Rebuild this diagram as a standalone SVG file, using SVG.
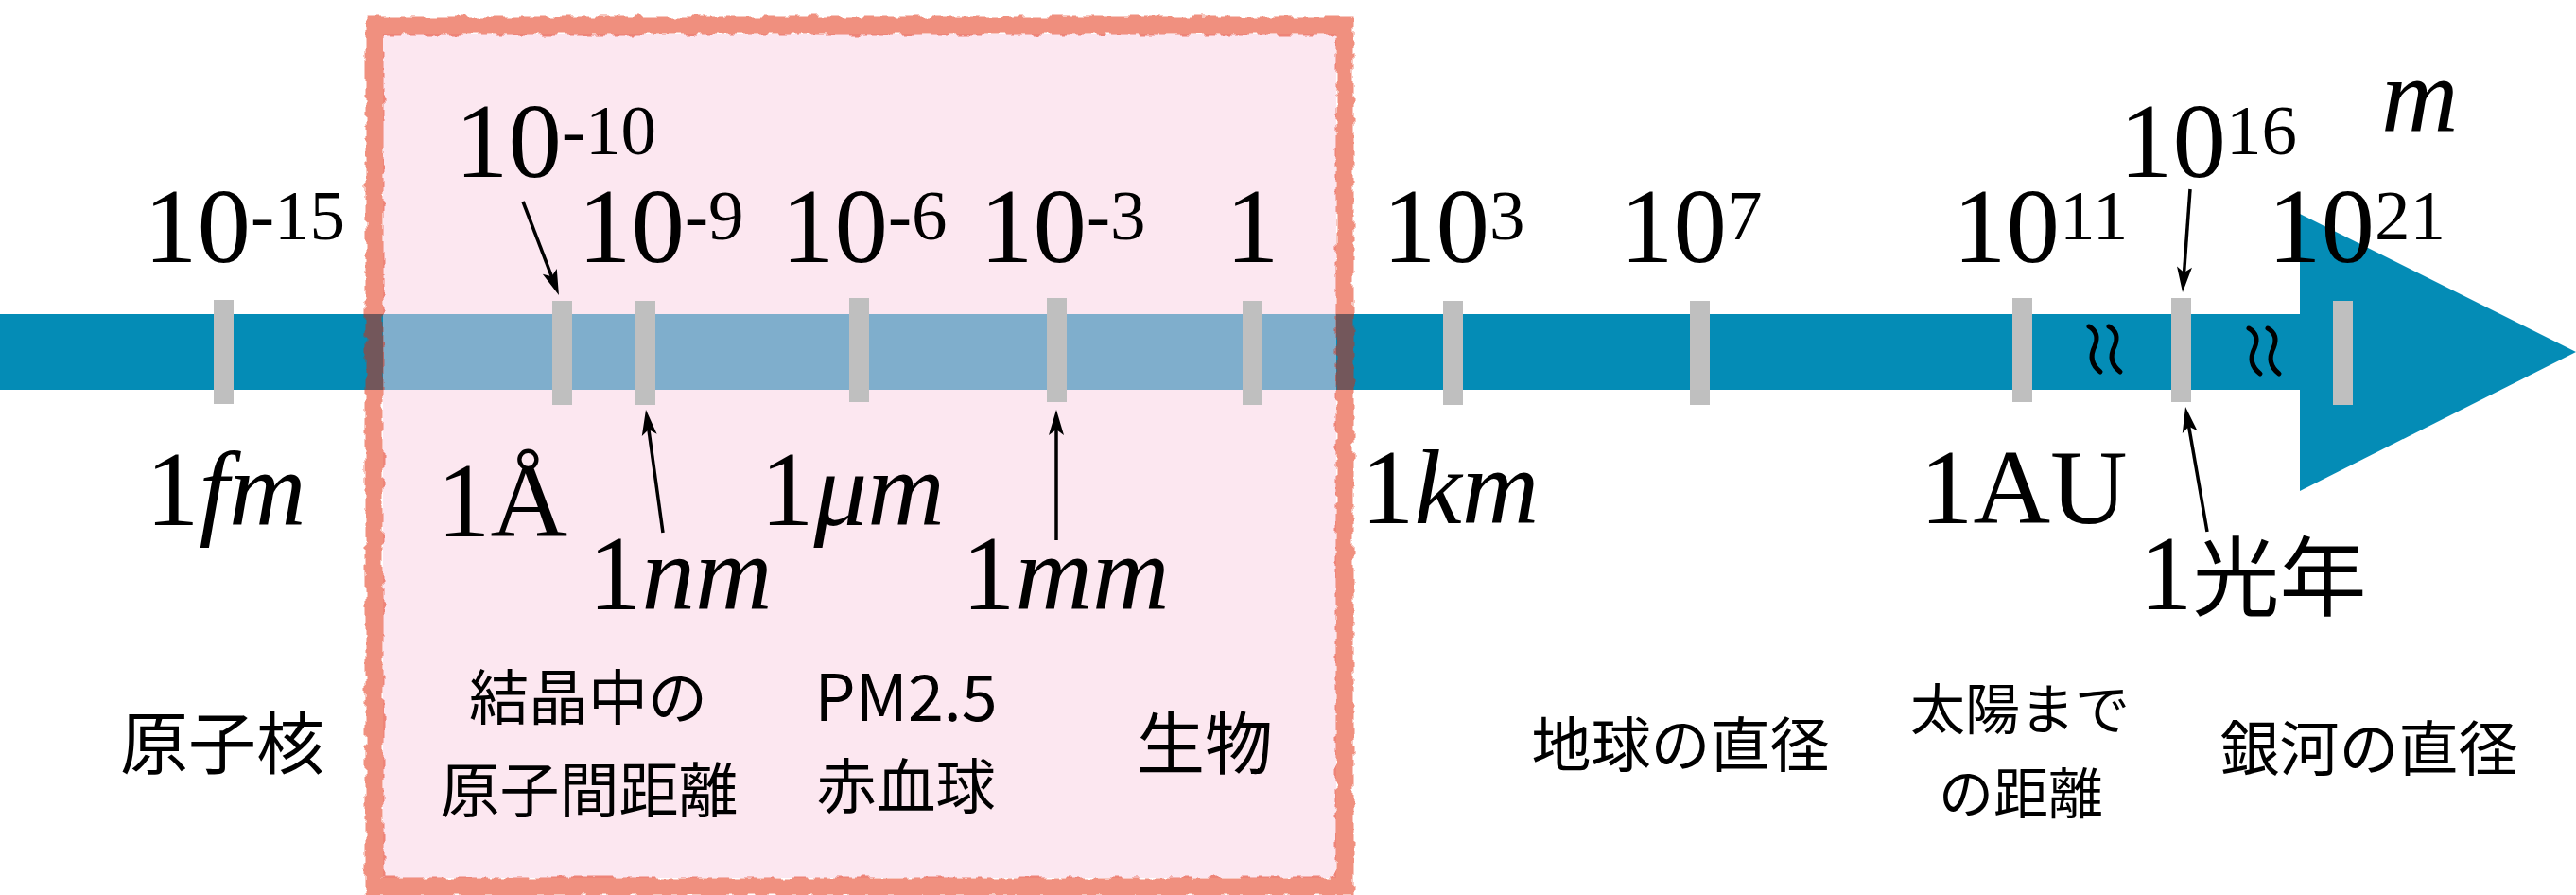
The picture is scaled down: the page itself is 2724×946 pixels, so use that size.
<svg xmlns="http://www.w3.org/2000/svg" width="2724" height="946" viewBox="0 0 2724 946">
<style>
.num{font-family:"Liberation Serif","Times New Roman",serif;font-size:113px;fill:#000}
.sup{font-size:75px}
.it{font-style:italic}
.jp{font-family:"Noto Sans CJK JP",sans-serif;font-size:63px;fill:#000;text-anchor:middle}
.tick{fill:#bfbfbf}
.arr{stroke:#000;stroke-width:3.5;fill:none;marker-end:url(#ah)}
.brk{stroke:#000;stroke-width:5;fill:none;stroke-linecap:round}
</style>
<defs>
<marker id="ah" markerUnits="userSpaceOnUse" markerWidth="30" markerHeight="20" viewBox="-20 -10 30 20" refX="0" refY="0" orient="auto">
<path d="M8,0 L-19,-8 L-13,0 L-19,8 Z" fill="#000"/>
</marker>
<filter id="rough" x="-3%" y="-3%" width="106%" height="106%">
<feTurbulence type="fractalNoise" baseFrequency="0.09" numOctaves="2" seed="4" result="n"/>
<feDisplacementMap in="SourceGraphic" in2="n" scale="9" xChannelSelector="R" yChannelSelector="G"/>
</filter>
</defs>

<g id="axis">
<rect x="0" y="332" width="2432" height="80" fill="#048cb6"/>
<polygon points="2432,226 2724,372 2432,519" fill="#048cb6"/>
</g>

<g id="range-box">
<rect x="405" y="36" width="1008" height="892" fill="rgb(249,208,225)" fill-opacity="0.5"/>
<rect x="396" y="27" width="1026" height="910" fill="none" stroke="rgb(226,32,6)" stroke-opacity="0.5" stroke-width="19" filter="url(#rough)"/>
</g>

<g id="ticks">
<rect class="tick" x="226" y="317" width="21" height="110"/>
<rect class="tick" x="584" y="318" width="21" height="110"/>
<rect class="tick" x="672" y="318" width="21" height="110"/>
<rect class="tick" x="898" y="315" width="21" height="110"/>
<rect class="tick" x="1107" y="315" width="21" height="110"/>
<rect class="tick" x="1314" y="318" width="21" height="110"/>
<rect class="tick" x="1526" y="318" width="21" height="110"/>
<rect class="tick" x="1787" y="318" width="21" height="110"/>
<rect class="tick" x="2128" y="315" width="21" height="110"/>
<rect class="tick" x="2296" y="315" width="21" height="110"/>
<rect class="tick" x="2467" y="318" width="21" height="110"/>
</g>

<g id="breaks">
<path class="brk" d="M2209,345 Q2221,352 2215,366 Q2207,382 2221,393"/>
<path class="brk" d="M2230,345 Q2242,352 2236,366 Q2228,382 2242,393"/>
<path class="brk" d="M2378,347 Q2390,354 2384,368 Q2376,384 2390,395"/>
<path class="brk" d="M2398,347 Q2410,354 2404,368 Q2396,384 2410,395"/>
</g>

<g id="connectors">
<line class="arr" x1="553" y1="213" x2="588.1" y2="304.5"/>
<line class="arr" x1="701" y1="563" x2="684.1" y2="441"/>
<line class="arr" x1="1117" y1="571" x2="1117" y2="441"/>
<line class="arr" x1="2316" y1="200" x2="2308.6" y2="301"/>
<line class="arr" x1="2334" y1="562" x2="2312.4" y2="438"/>
</g>

<g id="label-e-15"><text class="num" x="152" y="277">10<tspan class="sup" dy="-24">-15</tspan></text></g>
<g id="label-e-10"><text class="num" x="481" y="187">10<tspan class="sup" dy="-24">-10</tspan></text></g>
<g id="label-e-9"><text class="num" x="611" y="277">10<tspan class="sup" dy="-24">-9</tspan></text></g>
<g id="label-e-6"><text class="num" x="826" y="277">10<tspan class="sup" dy="-24">-6</tspan></text></g>
<g id="label-e-3"><text class="num" x="1036" y="277">10<tspan class="sup" dy="-24">-3</tspan></text></g>
<g id="label-e0"><text class="num" x="1296" y="277">1</text></g>
<g id="label-e3"><text class="num" x="1462" y="277">10<tspan class="sup" dy="-24">3</tspan></text></g>
<g id="label-e7"><text class="num" x="1713" y="277">10<tspan class="sup" dy="-24">7</tspan></text></g>
<g id="label-e11"><text class="num" x="2065" y="277">10<tspan class="sup" dy="-24">11</tspan></text></g>
<g id="label-e16"><text class="num" x="2241" y="187">10<tspan class="sup" dy="-24">16</tspan></text></g>
<g id="label-e21"><text class="num" x="2398" y="277">10<tspan class="sup" dy="-24">21</tspan></text></g>
<g id="label-unit"><text class="num it" x="2518" y="139">m</text></g>

<g id="unit-fm"><text class="num" x="154" y="555">1<tspan class="it">fm</tspan></text></g>
<g id="unit-angstrom"><text class="num" x="462" y="567">1Å</text></g>
<g id="unit-nm"><text class="num" x="622" y="644">1<tspan class="it">nm</tspan></text></g>
<g id="unit-um"><text class="num" x="804" y="555">1<tspan class="it">μm</tspan></text></g>
<g id="unit-mm"><text class="num" x="1017" y="644">1<tspan class="it">mm</tspan></text></g>
<g id="unit-km"><text class="num" x="1439" y="553">1<tspan class="it">km</tspan></text></g>
<g id="unit-au"><text class="num" x="2030" y="553">1AU</text></g>
<g id="unit-ly"><text class="num" x="2262" y="644">1<tspan style="font-family:'Noto Sans CJK JP',sans-serif;font-size:92px">光年</tspan></text></g>

<g id="ex-nucleus"><text class="jp" x="235" y="812" style="font-size:72px">原子核</text></g>
<g id="ex-crystal"><text class="jp" x="622" y="760">結晶中の</text><text class="jp" x="623" y="858">原子間距離</text></g>
<g id="ex-pm"><text class="jp" x="958" y="762" style="font-size:68px" textLength="193" lengthAdjust="spacingAndGlyphs">PM2.5</text><text class="jp" x="958" y="854">赤血球</text></g>
<g id="ex-life"><text class="jp" x="1274" y="812" style="font-size:72px">生物</text></g>
<g id="ex-earth"><text class="jp" x="1777" y="810">地球の直径</text></g>
<g id="ex-sun"><text class="jp" x="2136" y="771" style="font-size:58px">太陽まで</text><text class="jp" x="2137" y="860" style="font-size:58px">の距離</text></g>
<g id="ex-galaxy"><text class="jp" x="2505" y="814">銀河の直径</text></g>
</svg>
